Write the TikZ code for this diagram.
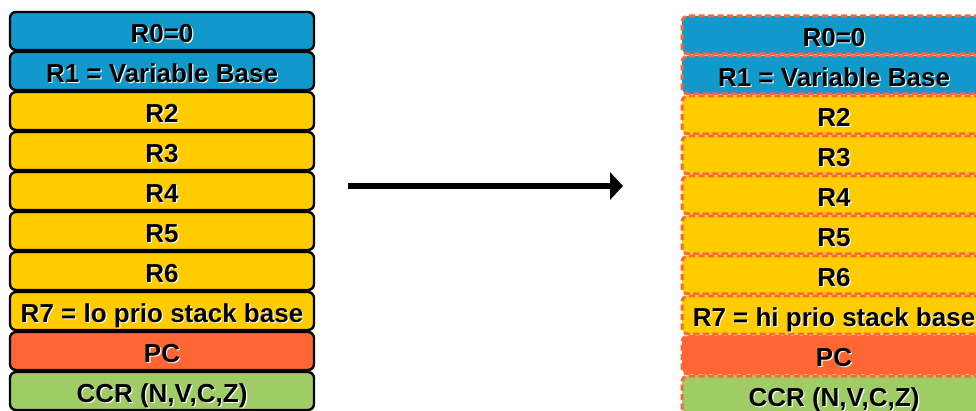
\documentclass[tikz,border=0pt]{standalone}
\usepackage{fontspec}
\setmainfont{Liberation Sans}
\usetikzlibrary{arrows.meta}
\definecolor{regblue}{HTML}{1199CC}
\definecolor{regyellow}{HTML}{FFCC00}
\definecolor{regorange}{HTML}{FF6633}
\definecolor{reggreen}{HTML}{A0CC66}
\newcommand{\shd}[1]{\makebox[0pt][l]{\hspace{1.2pt}\raisebox{-1.2pt}{\textcolor{white}{#1}}}#1}

\begin{document}
\begin{tikzpicture}[x=1pt, y=-1pt,
	reg/.style={rectangle, rounded corners=6pt, minimum width=304pt, minimum height=38pt,
		inner sep=0pt, text height=23pt, text depth=0pt, font=\fontsize{26}{28}\selectfont\bfseries},
	oldreg/.style={reg, draw=black, line width=2.4pt},
	newreg/.style={reg, draw=regorange, line width=3pt, dash pattern=on 6pt off 3.5pt}]
	\useasboundingbox (0,0) rectangle (976,411);

	% registers before
	\node[oldreg, fill=regblue]   (a0) at (162, 31) {\shd{R0=0}};
	\node[oldreg, fill=regblue]   (a1) at (162, 71) {\shd{R1 = Variable Base}};
	\node[oldreg, fill=regyellow] (a2) at (162,111) {\shd{R2}};
	\node[oldreg, fill=regyellow] (a3) at (162,151) {\shd{R3}};
	\node[oldreg, fill=regyellow] (a4) at (162,191) {\shd{R4}};
	\node[oldreg, fill=regyellow] (a5) at (162,231) {\shd{R5}};
	\node[oldreg, fill=regyellow] (a6) at (162,271) {\shd{R6}};
	\node[oldreg, fill=regyellow] (a7) at (162,311) {\shd{R7 = lo prio stack base}};
	\node[oldreg, fill=regorange] (apc) at (162,351) {\shd{PC}};
	\node[oldreg, fill=reggreen]  (accr) at (162,391) {\shd{CCR (N,V,C,Z)}};

	% registers after
	\node[newreg, fill=regblue]   (b0) at (834, 35) {\shd{R0=0}};
	\node[newreg, fill=regblue]   (b1) at (834, 75) {\shd{R1 = Variable Base}};
	\node[newreg, fill=regyellow] (b2) at (834,115) {\shd{R2}};
	\node[newreg, fill=regyellow] (b3) at (834,155) {\shd{R3}};
	\node[newreg, fill=regyellow] (b4) at (834,195) {\shd{R4}};
	\node[newreg, fill=regyellow] (b5) at (834,235) {\shd{R5}};
	\node[newreg, fill=regyellow] (b6) at (834,275) {\shd{R6}};
	\node[newreg, fill=regyellow] (b7) at (834,315) {\shd{R7 = hi prio stack base}};
	\node[newreg, fill=regorange] (bpc) at (834,355) {\shd{PC}};
	\node[newreg, fill=reggreen]  (bccr) at (834,395) {\shd{CCR (N,V,C,Z)}};

	\coordinate (from) at (348,186);
	\coordinate (to) at (623,186);
	\draw[line width=5.5pt, -{Triangle[length=13pt,width=27pt]}] (from) -- (to);
\end{tikzpicture}
\end{document}
